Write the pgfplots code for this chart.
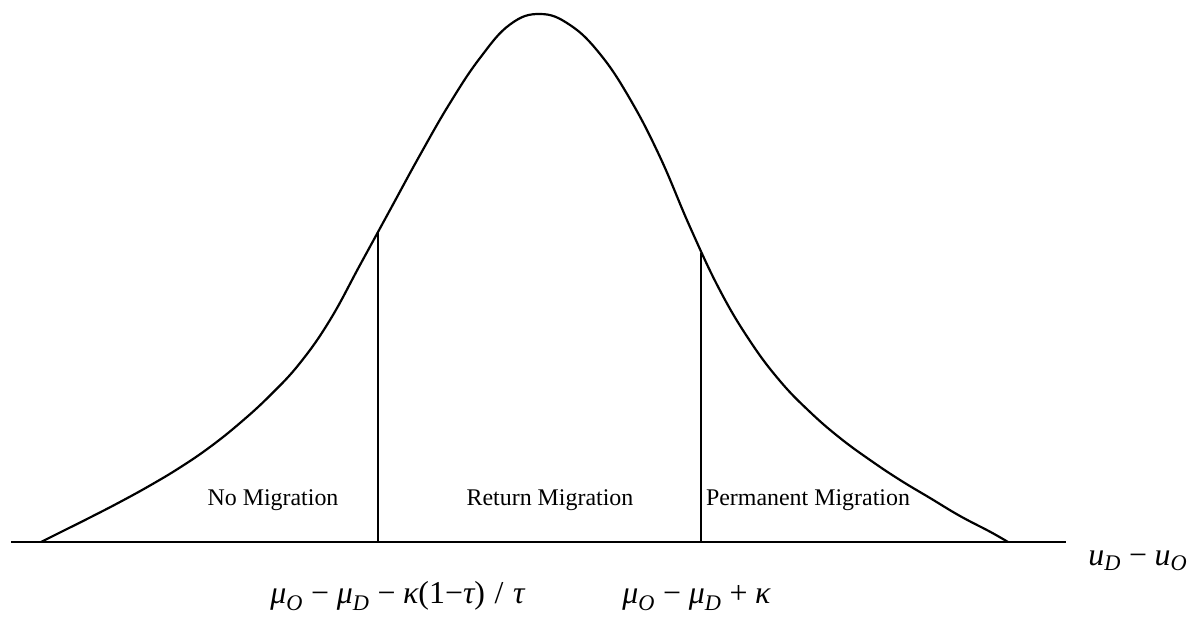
\documentclass[border=0pt]{standalone}
\usepackage{amsmath}
\usepackage{fontspec}
\setmainfont{Liberation Serif}
\usepackage{pgfplots}
\pgfplotsset{compat=1.18}
\newcommand\mi[1]{\textit{#1}}
\newcommand\mminus{\mathbin{\textrm{−}}}
\newcommand\mplus{\mathbin{\textrm{+}}}
\begin{document}
\begin{tikzpicture}
\begin{axis}[
  width=599.5bp, height=309.5bp, scale only axis,
  xmin=0, xmax=1199, ymin=0, ymax=619,
  hide axis, clip=false,
]
\path (axis cs:0,0) rectangle (axis cs:1199,619);
% baseline
\addplot[black, line width=1.1pt] coordinates {(11,77) (1066,77)};
% curve
\addplot[black, line width=1.1pt, smooth, tension=0.7] coordinates {
(41,77) (60,86.5) (90,101.5) (120,117) (150,133.5) (180,151.5) (210,172)
(240,196) (270,223.5) (300,256) (330,299) (360,354) (390,409) (420,464)
(450,516) (480,561) (510,594.5) (540,605) (570,594) (600,565) (630,520)
(660,462) (690,392) (720,328.5) (750,278) (780,238) (810,207) (840,181)
(870,159) (900,139) (930,121) (960,103) (990,87.3) (1008,77)
};
% vertical cut-offs
\addplot[black, line width=1.1pt] coordinates {(378,77) (378,388)};
\addplot[black, line width=1.1pt] coordinates {(701,77) (701,366)};
% region labels
\node[font=\fontsize{12}{14}\selectfont] at (axis cs:273,119) {No Migration};
\node[font=\fontsize{12}{14}\selectfont] at (axis cs:550,119) {Return Migration};
\node[font=\fontsize{12}{14}\selectfont] at (axis cs:808,119) {Permanent Migration};
% threshold labels
\node[font=\fontsize{16}{19}\selectfont, anchor=base west, inner sep=0pt] at (axis cs:270,16)
  {$\mi{μ}_{\mi{O}} \mminus \mi{μ}_{\mi{D}} \mminus \mi{κ}\textrm{(1−}\mi{τ}\textrm{)}\;\textrm{/}\;\mi{τ}$};
\node[font=\fontsize{16}{19}\selectfont, anchor=base west, inner sep=0pt] at (axis cs:622,16)
  {$\mi{μ}_{\mi{O}} \mminus \mi{μ}_{\mi{D}} \mplus \mi{κ}$};
\node[font=\fontsize{16}{19}\selectfont, anchor=base west, inner sep=0pt] at (axis cs:1088,54)
  {$\mi{u}_{\mi{D}} \mminus \mi{u}_{\mi{O}}$};
\end{axis}
\end{tikzpicture}
\end{document}
